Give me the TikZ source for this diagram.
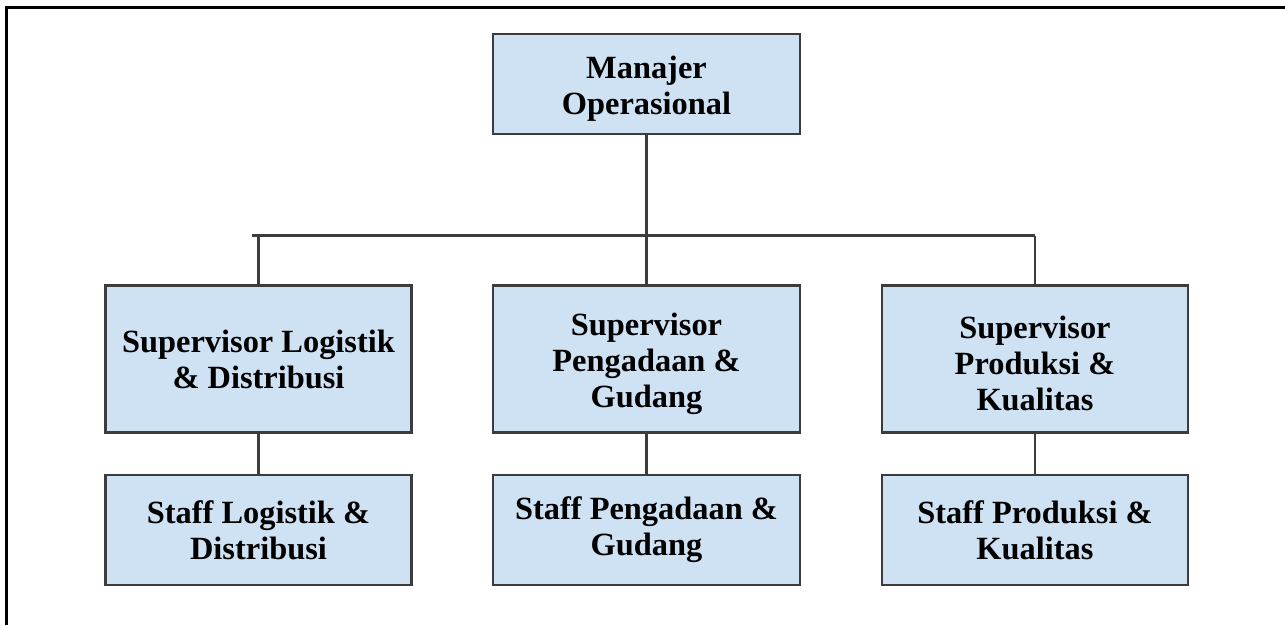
\documentclass[tikz,border=0pt]{standalone}
\usepackage{fontspec}
\setmainfont{Liberation Serif}
\definecolor{boxfill}{HTML}{CFE2F3}
\definecolor{boxline}{HTML}{3C3C3C}
\definecolor{conline}{HTML}{3C3C3C}
\newcommand{\topstrut}{\rule{0pt}{32pt}}
\newcommand{\mgrstrut}{\rule{0pt}{31pt}}
\begin{document}
\begin{tikzpicture}[x=1pt,y=-1pt,
  orgbox/.style={draw=boxline,line width=2.3pt,fill=boxfill,rectangle,inner sep=0pt,
    align=center,font=\fontsize{32.4}{36}\selectfont\bfseries},
  conn/.style={draw=conline,line width=2.2pt}]
\useasboundingbox (0,0) rectangle (1285,625);
\fill[white] (0,0) rectangle (1285,625);
\draw[black,line width=3pt] (6,625) -- (6,7) -- (1285,7);

\node[orgbox,minimum width=307pt,minimum height=100pt] (mgr) at (646.5,84) {\mgrstrut Manajer\\Operasional};

\node[orgbox,minimum width=306pt,minimum height=147pt] (s1) at (258.5,359) {Supervisor Logistik\\\& Distribusi};
\node[orgbox,minimum width=307pt,minimum height=147pt] (s2) at (646.5,359) {\topstrut Supervisor\\Pengadaan \&\\Gudang};
\node[orgbox,minimum width=306pt,minimum height=147pt] (s3) at (1035,359) {\topstrut Supervisor\\Produksi \&\\Kualitas};

\node[orgbox,minimum width=306pt,minimum height=110pt] (f1) at (258.5,530) {Staff Logistik \&\\Distribusi};
\node[orgbox,minimum width=307pt,minimum height=110pt] (f2) at (646.5,530) {Staff Pengadaan \&\\Gudang};
\node[orgbox,minimum width=306pt,minimum height=110pt] (f3) at (1035,530) {Staff Produksi \&\\Kualitas};

\coordinate (barL) at (252,235.5);

\draw[conn] (mgr.south) -- (mgr.south |- barL);
\draw[conn] (barL) -- (s3.north |- barL);
\draw[conn] (s1.north |- barL) -- (s1.north);
\draw[conn] (s2.north |- barL) -- (s2.north);
\draw[conn] (s3.north |- barL) -- (s3.north);
\draw[conn] (s1.south) -- (f1.north);
\draw[conn] (s2.south) -- (f2.north);
\draw[conn] (s3.south) -- (f3.north);
\end{tikzpicture}
\end{document}
